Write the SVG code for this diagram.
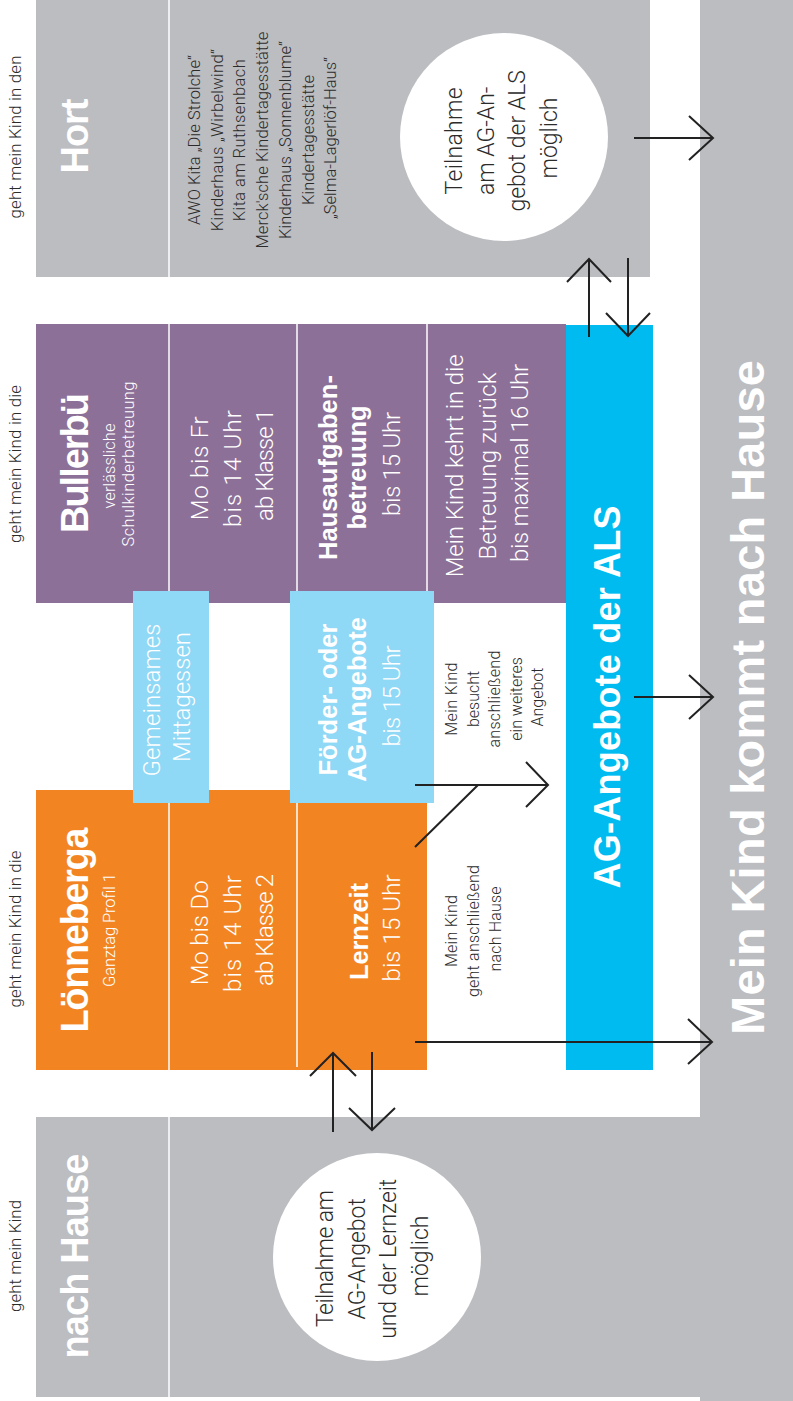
<svg xmlns="http://www.w3.org/2000/svg" width="793" height="1401" viewBox="0 0 793 1401">
<style>
.lt{font-family:Roboto,"Liberation Sans",Arial,sans-serif;font-weight:300;text-anchor:middle}
.bd{font-family:"Liberation Sans",Arial,sans-serif;font-weight:bold;text-anchor:middle}
.w{fill:#fff}
.k{fill:#2b2b2b}
.grey{fill:#bcbdc1}
.purple{fill:#8c7097}
.orange{fill:#f28522}
.lblue{fill:#8fd8f6}
.blue{fill:#00bbf0}
.div{stroke:#fff;stroke-width:1.5}
.arr{fill:none;stroke:#222;stroke-width:2}
.circ{fill:#fff}
</style>
<rect width="793" height="1401" fill="#fff"/>

<g id="labels-left" class="lt k" font-size="16.8">
  <text transform="translate(21 137) rotate(-90)" textLength="163">geht mein Kind in den</text>
  <text transform="translate(21 464) rotate(-90)" textLength="158">geht mein Kind in die</text>
  <text transform="translate(21 929) rotate(-90)" textLength="157">geht mein Kind in die</text>
  <text transform="translate(21 1256) rotate(-90)" textLength="112">geht mein Kind</text>
</g>

<g id="hort">
  <rect class="grey" x="36" y="0" width="614" height="277"/>
  <line class="div" x1="169" y1="0" x2="169" y2="277"/>
  <text class="bd w" font-size="38" transform="translate(88 136) rotate(-90)" textLength="75">Hort</text>
  <text class="lt k" font-size="16.5" transform="translate(200 138) rotate(-90)">
    <tspan x="0" y="0" textLength="170">AWO Kita „Die Strolche“</tspan>
    <tspan x="0" y="22.7" textLength="182">Kinderhaus „Wirbelwind“</tspan>
    <tspan x="0" y="45.4" textLength="162">Kita am Ruthsenbach</tspan>
    <tspan x="0" y="68.1" textLength="217">Merck'sche Kindertagesstätte</tspan>
    <tspan x="0" y="90.8" textLength="198">Kinderhaus „Sonnenblume“</tspan>
    <tspan x="0" y="113.5" textLength="130">Kindertagesstätte</tspan>
    <tspan x="0" y="136.2" textLength="162">„Selma-Lagerlöf-Haus“</tspan>
  </text>
  <circle class="circ" cx="504" cy="137" r="104"/>
  <text class="lt k" font-size="23" transform="translate(462 138) rotate(-90)">
    <tspan x="0" y="0" textLength="107">Teilnahme</tspan>
    <tspan x="0" y="31.5">am AG-An-</tspan>
    <tspan x="0" y="63">gebot der ALS</tspan>
    <tspan x="0" y="94.5">möglich</tspan>
  </text>
</g>

<g id="mein-kind-kommt-nach-hause">
  <rect class="grey" x="700" y="0" width="93" height="1401"/>
  <text class="bd w" font-size="47" transform="translate(764 697.5) rotate(-90)" textLength="675">Mein Kind kommt nach Hause</text>
</g>

<g id="nach-hause">
  <rect class="grey" x="36" y="1117" width="664" height="280"/>
  <line class="div" x1="169" y1="1117" x2="169" y2="1397"/>
  <text class="bd w" font-size="38" transform="translate(88 1256) rotate(-90)" textLength="205">nach Hause</text>
  <circle class="circ" cx="377" cy="1257" r="104"/>
  <text class="lt k" font-size="23" transform="translate(333 1256) rotate(-90)">
    <tspan x="0" y="0" textLength="137">Teilnahme am</tspan>
    <tspan x="0" y="31.5">AG-Angebot</tspan>
    <tspan x="0" y="63" textLength="160">und der Lernzeit</tspan>
    <tspan x="0" y="94.5">möglich</tspan>
  </text>
</g>

<g id="bullerbue">
  <rect class="purple" x="36" y="324" width="530" height="279"/>
  <line class="div" x1="169" y1="324" x2="169" y2="603"/>
  <line class="div" x1="297" y1="324" x2="297" y2="603"/>
  <line class="div" x1="427" y1="324" x2="427" y2="603"/>
  <text class="bd w" font-size="38" transform="translate(88 463) rotate(-90)" textLength="140">Bullerbü</text>
  <text class="lt w" font-size="16.5" transform="translate(115 464) rotate(-90)">
    <tspan x="0" y="0" textLength="85">verlässliche</tspan>
    <tspan x="0" y="19" textLength="165">Schulkinderbetreuung</tspan>
  </text>
  <text class="lt w" font-size="24" transform="translate(208 465) rotate(-90)">
    <tspan x="0" y="0" textLength="104">Mo bis Fr</tspan>
    <tspan x="0" y="32.5" textLength="117">bis 14 Uhr</tspan>
    <tspan x="0" y="65" textLength="112">ab Klasse 1</tspan>
  </text>
  <text class="bd w" font-size="25.5" transform="translate(337 464) rotate(-90)">
    <tspan x="0" y="0" textLength="185">Hausaufgaben-</tspan>
    <tspan x="0" y="29" textLength="124">betreuung</tspan>
    <tspan class="lt" x="0" y="63" font-size="24" textLength="104">bis 15 Uhr</tspan>
  </text>
  <text class="lt w" font-size="24" transform="translate(463 463) rotate(-90)">
    <tspan x="0" y="0" textLength="223">Mein Kind kehrt in die</tspan>
    <tspan x="0" y="32.5" textLength="187">Betreuung zurück</tspan>
    <tspan x="0" y="65" textLength="198">bis maximal 16 Uhr</tspan>
  </text>
</g>

<g id="loenneberga">
  <rect class="orange" x="36" y="790" width="391" height="280"/>
  <line class="div" x1="169" y1="790" x2="169" y2="1070"/>
  <line class="div" x1="297" y1="800" x2="297" y2="1067"/>
  <text class="bd w" font-size="38" transform="translate(88 930) rotate(-90)" textLength="205">Lönneberga</text>
  <text class="lt w" font-size="16.5" transform="translate(115 930) rotate(-90)" textLength="114">Ganztag Profil 1</text>
  <text class="lt w" font-size="24" transform="translate(208 930) rotate(-90)">
    <tspan x="0" y="0" textLength="105">Mo bis Do</tspan>
    <tspan x="0" y="32.5" textLength="117">bis 14 Uhr</tspan>
    <tspan x="0" y="65" textLength="112">ab Klasse 2</tspan>
  </text>
  <text class="bd w" font-size="25.5" transform="translate(368 928) rotate(-90)">
    <tspan x="0" y="0" textLength="97">Lernzeit</tspan>
    <tspan class="lt" x="0" y="32" font-size="24" textLength="107">bis 15 Uhr</tspan>
  </text>
</g>

<g id="ag-angebote-als">
  <rect class="blue" x="566" y="325" width="87" height="745"/>
  <text class="bd w" font-size="36" transform="translate(620 697) rotate(-90)" textLength="383">AG-Angebote der ALS</text>
</g>

<g id="mittagessen">
  <rect class="lblue" x="133" y="591" width="76" height="212"/>
  <text class="lt w" font-size="24" transform="translate(160 697) rotate(-90)">
    <tspan x="0" y="0" textLength="153">Gemeinsames</tspan>
    <tspan x="0" y="30" textLength="130">Mittagessen</tspan>
  </text>
</g>

<g id="foerder-ag">
  <rect class="lblue" x="290" y="591" width="144" height="212"/>
  <text class="bd w" font-size="25.5" transform="translate(337 696) rotate(-90)">
    <tspan x="0" y="0" textLength="152">Förder- oder</tspan>
    <tspan x="0" y="29" textLength="165">AG-Angebote</tspan>
    <tspan class="lt" x="0" y="63" font-size="24" textLength="101">bis 15 Uhr</tspan>
  </text>
</g>

<g id="connectors" class="arr">
  <path d="M634 138 H713 M689 116 L713 138 L689 160"/>
  <path d="M589 337 V259 M567 282 L589 259 L611 282"/>
  <path d="M628 258 V336 M606 313 L628 336 L650 313"/>
  <path d="M333 1132 V1053 M310 1076 L333 1053 L356 1076"/>
  <path d="M372 1052 V1130 M349 1108 L372 1130 L395 1108"/>
  <path d="M415 1042 H712 M688 1019 L712 1042 L688 1064"/>
  <path d="M415 847 L478 785 M415 785 H548 M526 762 L548 785 L526 807"/>
  <path d="M634 697 H713 M689 675 L713 697 L689 719"/>
</g>

<g id="connector-labels" class="lt k" font-size="16">
  <text transform="translate(457 697) rotate(-90)">
    <tspan x="0" y="0" textLength="73">Mein Kind</tspan>
    <tspan x="0" y="21.5">besucht</tspan>
    <tspan x="0" y="43" textLength="97">anschließend</tspan>
    <tspan x="0" y="64.5">ein weiteres</tspan>
    <tspan x="0" y="86">Angebot</tspan>
  </text>
  <text transform="translate(457 929) rotate(-90)">
    <tspan x="0" y="0" textLength="72">Mein Kind</tspan>
    <tspan x="0" y="22" textLength="132">geht anschließend</tspan>
    <tspan x="0" y="44" textLength="85">nach Hause</tspan>
  </text>
</g>
</svg>
